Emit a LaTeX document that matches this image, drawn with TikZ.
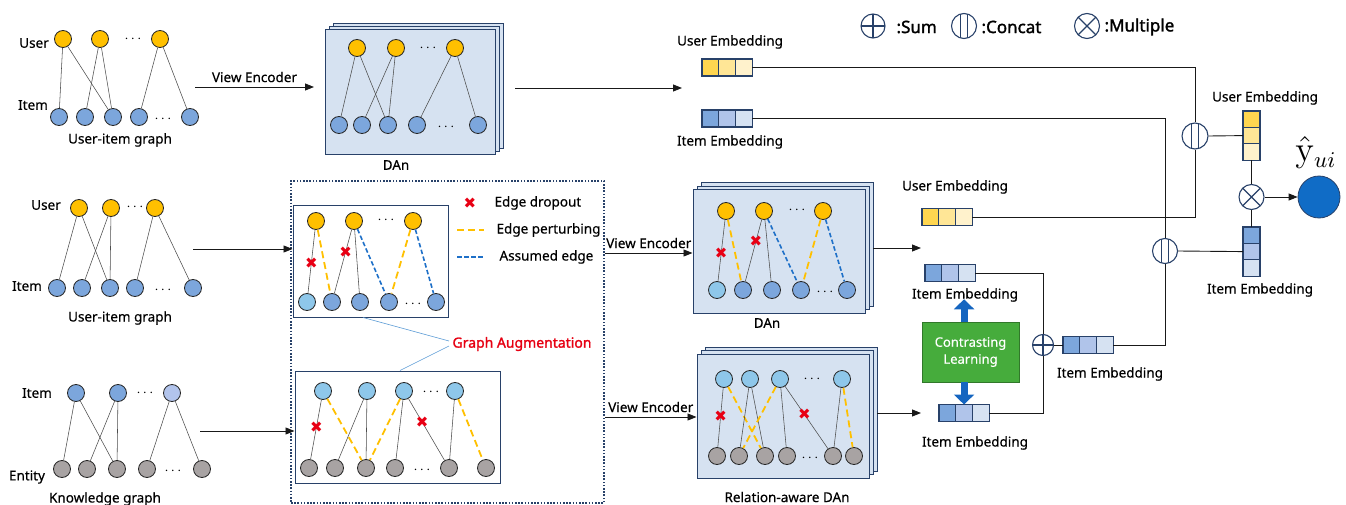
\documentclass[tikz,border=0pt]{standalone}
\usepackage[no-math]{fontspec}
\setmainfont{Noto Sans}[FakeBold=0.35]
\newfontfamily\boldsans{Noto Sans}[FakeBold=1.6]
\newfontfamily\symfont{DejaVu Sans}
\usepackage{tikz}
\usetikzlibrary{arrows.meta,positioning,calc}
\definecolor{navy}{RGB}{40,65,105}
\definecolor{usr}{RGB}{255,192,0}
\definecolor{itm}{RGB}{124,166,220}
\definecolor{sky}{RGB}{142,199,234}
\definecolor{ent}{RGB}{168,163,163}
\definecolor{itmlt}{RGB}{178,196,236}
\definecolor{panelbg}{RGB}{214,226,241}
\definecolor{pert}{RGB}{255,192,0}
\definecolor{assum}{RGB}{30,112,200}
\definecolor{dropred}{RGB}{232,0,20}
\definecolor{yA}{RGB}{255,214,80}
\definecolor{yB}{RGB}{255,230,150}
\definecolor{yC}{RGB}{255,242,204}
\definecolor{bA}{RGB}{124,166,220}
\definecolor{bB}{RGB}{176,196,234}
\definecolor{bC}{RGB}{214,226,242}
\definecolor{clgreen}{RGB}{70,172,60}
\definecolor{clblue}{RGB}{21,101,192}
\definecolor{augred}{RGB}{230,0,18}
\definecolor{linkblue}{RGB}{91,155,213}
\definecolor{yhatblue}{RGB}{16,108,198}

\begin{document}
\begin{tikzpicture}[x=1pt,y=-1pt,
  every node/.style={font=\fontsize{13.5}{16}\selectfont},
  gnode/.style={circle,draw=black!85,line width=0.8pt,minimum size=17pt,inner sep=0pt},
  unode/.style={gnode,fill=usr},
  inode/.style={gnode,fill=itm},
  snode/.style={gnode,fill=sky},
  enode/.style={gnode,fill=ent},
  lnode/.style={gnode,fill=itmlt},
  gedge/.style={draw=black!70,line width=0.55pt},
  perturb/.style={draw=pert,line width=1.8pt,dash pattern=on 7pt off 4pt},
  assumed/.style={draw=assum,line width=1.6pt,dash pattern=on 4.5pt off 2.5pt},
  dropmark/.style={text=dropred,font=\symfont\fontsize{15}{15}\selectfont,inner sep=0pt},
  panel/.style={draw=navy,fill=panelbg,line width=1pt,inner sep=0pt},
  augbox/.style={draw=navy,fill=white,line width=1pt,inner sep=0pt},
  cell/.style={draw=navy,line width=1.1pt,minimum width=16.7pt,minimum height=17pt,
    inner sep=0pt,outer sep=0pt},
  vcell/.style={draw=navy,line width=1.1pt,minimum width=17pt,minimum height=16.4pt,
    inner sep=0pt,outer sep=0pt},
  conn/.style={draw=black!90,line width=0.9pt},
  arr/.style={conn,-{Triangle[length=9pt,width=7pt]}},
  bigarr/.style={draw=clblue,line width=7pt,-{Triangle[length=10pt,width=20pt]}},
  opcirc/.style={circle,draw=navy,fill=white,line width=1.1pt,inner sep=0pt},
  sumop/.style={opcirc,minimum size=#1,path picture={
    \draw[navy,line width=1.1pt] (path picture bounding box.north)--(path picture bounding box.south)
      (path picture bounding box.west)--(path picture bounding box.east);}},
  sumop/.default=22pt,
  catop/.style={opcirc,minimum size=#1,path picture={
    \draw[navy,line width=1.1pt] ([shift={(-3.5pt,-20pt)}]path picture bounding box.center)
      rectangle ([shift={(3.5pt,20pt)}]path picture bounding box.center);}},
  catop/.default=25pt,
  mulop/.style={opcirc,minimum size=#1,path picture={
    \draw[navy,line width=1.1pt] ([shift={(-9pt,-9pt)}]path picture bounding box.center)
      -- ([shift={(9pt,9pt)}]path picture bounding box.center)
      ([shift={(-9pt,9pt)}]path picture bounding box.center)
      -- ([shift={(9pt,-9pt)}]path picture bounding box.center);}},
  mulop/.default=25pt]
\useasboundingbox (0,0) rectangle (1346,505);

% legend of operators
\node[sumop=24pt] (lgsum) at (873,26) {};
\node[anchor=west,font=\boldsans\fontsize{17}{20}\selectfont] (lgsumt) at (893,27) {:Sum};
\node[catop=25pt] (lgcat) at (964,26) {};
\node[anchor=west,font=\boldsans\fontsize{17}{20}\selectfont] (lgcatt) at (978,27) {:Concat};
\node[mulop=25pt] (lgmul) at (1087,26) {};
\node[anchor=west,font=\boldsans\fontsize{17}{20}\selectfont] (lgmult) at (1101,27) {:Multiple};

% user-item graph (top)
\node (gaUl) at (34,43) {User};
\node (gaIl) at (33,105) {Item};
\foreach \n/\x in {1/63,2/100,3/160} \node[unode] (gaU\n) at (\x,39) {};
\node (gaUd) at (133,39) {$\cdots$};
\foreach \n/\x in {1/59,2/85,3/113,4/139,5/190} \node[inode] (gaI\n) at (\x,117) {};
\node (gaId) at (163,119) {$\cdots$};
\foreach \a/\b in {1/1,1/3,2/2,2/3,3/4,3/5} \draw[gedge] (gaU\a) -- (gaI\b);
\node (gacap) at (120,140) {User-item graph};
\coordinate (ve1s) at (195,87);
\coordinate (ve1e) at (314,87);
\draw[arr] (ve1s) -- node[above=1pt] (ve1lbl) {View Encoder} (ve1e);

% DAn (top)
\node[panel,minimum width=170pt,minimum height=125pt] (dan1c) at (418,86.5) {};
\node[panel,minimum width=170pt,minimum height=125pt] (dan1b) at (414,89.5) {};
\node[panel,minimum width=170pt,minimum height=125pt] (dan1) at (410,92.5) {};
\foreach \n/\x in {1/357,2/396,3/455} \node[unode] (d1U\n) at (\x,48) {};
\node (d1Ud) at (428,48) {$\cdots$};
\foreach \n/\x in {1/339,2/362,3/388,4/417,5/478} \node[inode] (d1I\n) at (\x,125) {};
\node (d1Id) at (446,127) {$\cdots$};
\foreach \a/\b in {1/1,1/3,2/2,2/3,3/4,3/5} \draw[gedge] (d1U\a) -- (d1I\b);
\node (dan1lbl) at (396,165) {DAn};
\coordinate (d1o) at (515,88);
\coordinate (d1t) at (682,88);
\draw[arr] (d1o) -- (d1t);

% embeddings (top)
\node (ueAlbl) at (730,42) {User Embedding};
\node[cell,fill=yA] (ueA1) at (710.35,67.5) {};
\node[cell,fill=yB,right=0pt of ueA1] (ueA2) {};
\node[cell,fill=yC,right=0pt of ueA2] (ueA3) {};
\node[cell,fill=bA] (ieA1) at (710.35,118.5) {};
\node[cell,fill=bB,right=0pt of ieA1] (ieA2) {};
\node[cell,fill=bC,right=0pt of ieA2] (ieA3) {};
\node (ieAlbl) at (730,142) {Item Embedding};

% user-item graph (middle)
\node (gbUl) at (46,205) {User};
\node (gbIl) at (27,286) {Item};
\foreach \n/\x in {1/79,2/111,3/155} \node[unode] (gbU\n) at (\x,208) {};
\node (gbUd) at (135,207) {$\cdots$};
\foreach \n/\x in {1/57,2/82,3/110,4/135,5/193} \node[inode] (gbI\n) at (\x,288) {};
\node (gbId) at (163,290) {$\cdots$};
\foreach \a/\b in {1/1,1/3,2/2,2/3,3/4,3/5} \draw[gedge] (gbU\a) -- (gbI\b);
\node (gbcap) at (120,318) {User-item graph};

% knowledge graph
\node (kgIl) at (37,393) {Item};
\node (kgEl) at (27,477) {Entity};
\node[inode] (kgI1) at (76,393) {};
\node[inode] (kgI2) at (118,393) {};
\node[lnode] (kgI3) at (172,393) {};
\node (kgId) at (145,393) {$\cdots$};
\foreach \n/\x in {1/62,2/87,3/117,4/147,5/202} \node[enode] (kgE\n) at (\x,469) {};
\node (kgEd) at (173,471) {$\cdots$};
\foreach \a/\b in {1/1,1/3,2/2,2/3,3/4,3/5} \draw[gedge] (kgI\a) -- (kgE\b);
\node (kgcap) at (105,499) {Knowledge graph};

% graph augmentation
\node[draw=navy,line width=1.6pt,dash pattern=on 1.6pt off 1.6pt,minimum width=313pt,
  minimum height=322pt,inner sep=0pt] (augf) at (447.5,342) {};
\node[augbox,minimum width=155pt,minimum height=111pt] (aug1) at (370.5,261.5) {};
\node[unode] (a1U1) at (316,221) {};
\node[unode] (a1U2) at (354,221) {};
\node[unode] (a1U3) at (413,221) {};
\node (a1Ud) at (386,220) {$\cdots$};
\node[snode] (a1I1) at (307,302) {};
\foreach \n/\x in {2/332,3/360,4/389,5/436} \node[inode] (a1I\n) at (\x,302) {};
\node (a1Id) at (413,304) {$\cdots$};
\draw[gedge] (a1U1) -- node[dropmark,pos=0.52] (a1X1) {✖} (a1I1);
\draw[perturb] (a1U1) -- (a1I2);
\draw[gedge] (a1U2) -- node[dropmark,pos=0.35] (a1X2) {✖} (a1I2);
\draw[gedge] (a1U2) -- (a1I3);
\draw[assumed] (a1U2) -- (a1I4);
\draw[perturb] (a1U3) -- (a1I4);
\draw[assumed] (a1U3) -- (a1I5);

\node[augbox,minimum width=205pt,minimum height=112pt] (aug2) at (397.5,427) {};
\foreach \n/\x in {1/323,2/367,3/404,4/455} \node[snode] (a2I\n) at (\x,391) {};
\node (a2Id) at (431,392) {$\cdots$};
\foreach \n/\x in {1/309,2/335,3/366,4/395,5/449,6/486} \node[enode] (a2E\n) at (\x,468) {};
\node (a2Ed) at (422,470) {$\cdots$};
\draw[gedge] (a2I1) -- node[dropmark,pos=0.47] (a2X1) {✖} (a2E1);
\draw[perturb] (a2I1) -- (a2E3);
\draw[gedge] (a2I2) -- (a2E2);
\draw[gedge] (a2I2) -- (a2E3);
\draw[perturb] (a2I3) -- (a2E3);
\draw[gedge] (a2I3) -- (a2E4);
\draw[gedge] (a2I3) -- node[dropmark,pos=0.38] (a2X2) {✖} (a2E5);
\draw[gedge] (a2I4) -- (a2E5);
\draw[perturb] (a2I4) -- (a2E6);

% legend of edges
\node[dropmark] (lgx) at (470,203) {✖};
\node[anchor=west] (lgxt) at (491,203) {Edge dropout};
\coordinate (lgp1) at (457,230);
\coordinate (lgp2) at (484,230);
\draw[perturb] (lgp1) -- (lgp2);
\node[anchor=west] (lgpt) at (493,230) {Edge perturbing};
\coordinate (lga1) at (457,257);
\coordinate (lga2) at (484,257);
\draw[assumed] (lga1) -- (lga2);
\node[anchor=west] (lgat) at (496,257) {Assumed edge};

\node[text=augred,font=\boldsans\fontsize{14}{17}\selectfont] (galbl) at (522,344) {Graph Augmentation};
\draw[linkblue,line width=0.6pt] ([xshift=-7.5pt]aug1.south) -- ([yshift=3pt]galbl.west);
\draw[linkblue,line width=0.6pt] ([xshift=2.5pt]aug2.north) -- ([yshift=-2pt]galbl.west);

\coordinate (gbo) at (193,249);
\draw[arr] (gbo) -- (gbo -| aug1.west);
\coordinate (kgo) at (200,431);
\draw[arr] (kgo) -- (kgo -| aug2.west);

% DAn (middle)
\node[panel,minimum width=172pt,minimum height=123pt] (dan2c) at (787,244.5) {};
\node[panel,minimum width=172pt,minimum height=123pt] (dan2b) at (783,248) {};
\node[panel,minimum width=172pt,minimum height=123pt] (dan2) at (779,251.5) {};
\foreach \n/\x in {1/726,2/764,3/823} \node[unode] (d2U\n) at (\x,211) {};
\node (d2Ud) at (797,210) {$\cdots$};
\node[snode] (d2I1) at (717,290) {};
\foreach \n/\x in {2/743,3/772,4/801,5/847} \node[inode] (d2I\n) at (\x,290) {};
\node (d2Id) at (825,292) {$\cdots$};
\draw[gedge] (d2U1) -- node[dropmark,pos=0.54] (d2X1) {✖} (d2I1);
\draw[perturb] (d2U1) -- (d2I2);
\draw[gedge] (d2U2) -- node[dropmark,pos=0.35] (d2X2) {✖} (d2I2);
\draw[gedge] (d2U2) -- (d2I3);
\draw[assumed] (d2U2) -- (d2I4);
\draw[perturb] (d2U3) -- (d2I4);
\draw[assumed] (d2U3) -- (d2I5);
\node (dan2lbl) at (767,323) {DAn};
\coordinate (ve2s) at (605,253);
\draw[arr] (ve2s) -- node[above=1pt] (ve2lbl) {View Encoder} (ve2s -| dan2.west);

% relation-aware DAn
\node[panel,minimum width=172pt,minimum height=124pt] (rdanc) at (791,409) {};
\node[panel,minimum width=172pt,minimum height=124pt] (rdanb) at (787,412.5) {};
\node[panel,minimum width=172pt,minimum height=124pt] (rdan) at (783,416) {};
\foreach \n/\x in {1/724,2/750,3/780,4/842} \node[snode] (rdI\n) at (\x,379) {};
\node (rdId) at (812,379) {$\cdots$};
\foreach \n/\x in {1/717,2/739,3/765,4/787,5/833,6/854} \node[enode] (rdE\n) at (\x,456) {};
\node (rdEd) at (810,458) {$\cdots$};
\draw[gedge] (rdI1) -- node[dropmark,pos=0.48] (rdX1) {✖} (rdE1);
\draw[perturb] (rdI1) -- (rdE3);
\draw[gedge] (rdI2) -- (rdE2);
\draw[gedge] (rdI2) -- (rdE3);
\draw[perturb] (rdI3) -- (rdE2);
\draw[gedge] (rdI3) -- (rdE4);
\draw[gedge] (rdI3) -- node[dropmark,pos=0.45] (rdX2) {✖} (rdE5);
\draw[gedge] (rdI4) -- (rdE5);
\draw[perturb] (rdI4) -- (rdE6);
\node (rdanlbl) at (787,497) {Relation-aware DAn};
\coordinate (ve3s) at (605,417);
\draw[arr] (ve3s) -- node[above=1pt] (ve3lbl) {View Encoder} (ve3s -| rdan.west);

% embeddings (middle)
\node (ueBlbl) at (955,187) {User Embedding};
\node[cell,fill=yA] (ueB1) at (930.35,217) {};
\node[cell,fill=yB,right=0pt of ueB1] (ueB2) {};
\node[cell,fill=yC,right=0pt of ueB2] (ueB3) {};
\coordinate (d2o) at (873,248);
\coordinate (d2t) at (921,248);
\draw[arr] (d2o) -- (d2t);
\node[cell,fill=bA] (ieB1) at (933.35,273) {};
\node[cell,fill=bB,right=0pt of ieB1] (ieB2) {};
\node[cell,fill=bC,right=0pt of ieB2] (ieB3) {};
\node (ieBlbl) at (965,295) {Item Embedding};
\node[draw=clgreen!70!black,fill=clgreen,line width=0.8pt,minimum width=97pt,minimum height=60pt,
  text=white,align=center,font=\fontsize{13}{17}\selectfont] (cl) at (970.5,352) {Contrasting\\Learning};
\node[cell,fill=bA] (ieC1) at (947.35,413) {};
\node[cell,fill=bB,right=0pt of ieC1] (ieC2) {};
\node[cell,fill=bC,right=0pt of ieC2] (ieC3) {};
\node (ieClbl) at (975,443) {Item Embedding};
\coordinate (rdo) at (877,413);
\coordinate (rdt) at (921,413);
\draw[arr] (rdo) -- (rdt);
\draw[bigarr] (cl.north -| ieC2) -- ([yshift=6pt]ieC2 |- ieBlbl.south);
\draw[bigarr] (cl.south -| ieC2) -- (ieC2.north);

% sum and concat
\node[sumop=21pt] (sum) at (1043,345) {};
\node[cell,fill=bA] (sb1) at (1071.35,345) {};
\node[cell,fill=bB,right=0pt of sb1] (sb2) {};
\node[cell,fill=bC,right=0pt of sb2] (sb3) {};
\node (sblbl) at (1110,374) {Item Embedding};
\draw[conn] (ieB3.east) -| (sum.north);
\draw[conn] (ieC3.east) -| (sum.south);
\draw[conn] (sum.east) -- (sb1.west);
\node[catop=26pt] (cat1) at (1195,136) {};
\node[catop=25pt] (cat2) at (1165,251) {};
\draw[conn] (ueA3.east) -| (cat1.north);
\draw[conn] (ieA3.east) -| (cat2.north);
\draw[conn] (ueB3.east) -| (cat1.south);
\draw[conn] (sb3.east) -| (cat2.south);

% prediction
\node (ueVlbl) at (1265,98) {User Embedding};
\node[vcell,fill=yA] (ueV1) at (1251.5,119.2) {};
\node[vcell,fill=yB,below=0pt of ueV1] (ueV2) {};
\node[vcell,fill=yC,below=0pt of ueV2] (ueV3) {};
\node[vcell,fill=bA] (ieV1) at (1251.5,235.2) {};
\node[vcell,fill=bB,below=0pt of ieV1] (ieV2) {};
\node[vcell,fill=bC,below=0pt of ieV2] (ieV3) {};
\node (ieVlbl) at (1260,290) {Item Embedding};
\draw[conn] (cat1.east) -- (ueV2.west);
\draw[conn] (cat2.east) -- (ieV2.west);
\node[mulop=25pt] (mul) at (1251.5,197) {};
\draw[conn] (ueV3.south) -- (mul.north);
\draw[conn] (ieV1.north) -- (mul.south);
\node[circle,draw=navy,fill=yhatblue,line width=0.8pt,minimum size=42pt,inner sep=0pt] (yhat) at (1319,197) {};
\draw[arr] (mul.east) -- (yhat.west);
\node[scale=2.5,inner sep=0pt] (yhatlbl) at (1316,153) {$\hat{\mathrm{y}}_{ui}$};
\end{tikzpicture}
\end{document}
